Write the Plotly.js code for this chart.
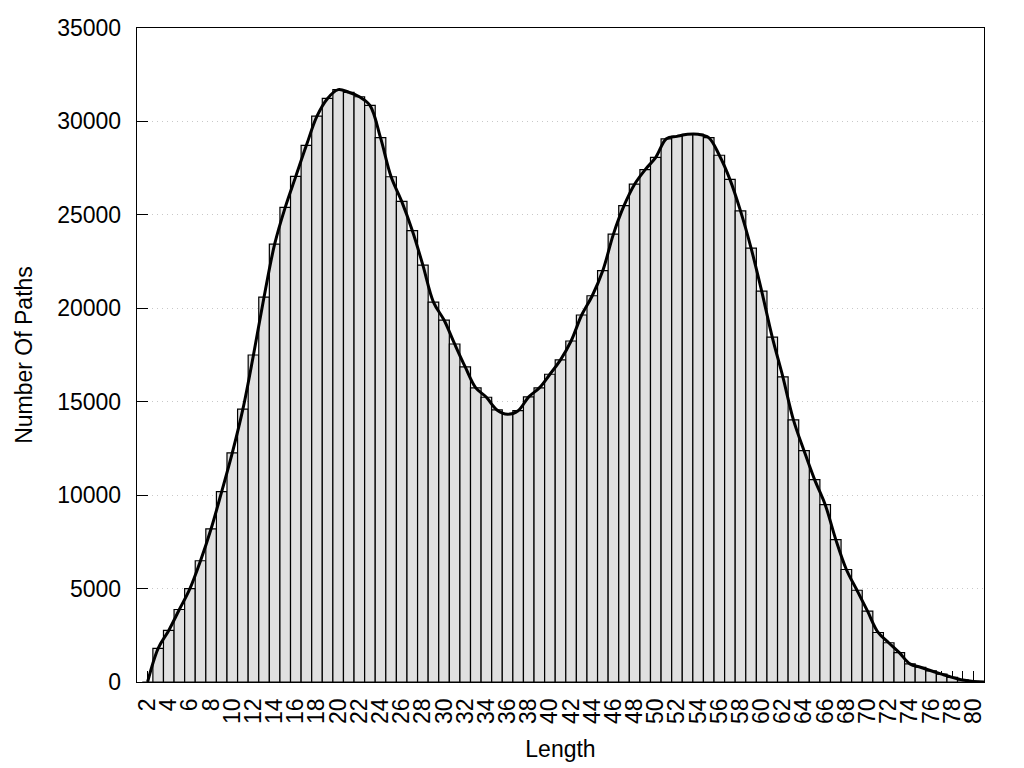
<!DOCTYPE html>
<html>
<head>
<meta charset="utf-8">
<script src="https://cdn.plot.ly/plotly-3.0.1.min.js"></script>
<style>html,body{margin:0;padding:0;background:#fff;}#chart{width:1024px;height:768px;}</style>
</head>
<body>
<div id="chart"></div>
<script>
var lengths = [2,3,4,5,6,7,8,9,10,11,12,13,14,15,16,17,18,19,20,21,22,23,24,25,26,27,28,29,30,31,32,33,34,35,36,37,38,39,40,41,42,43,44,45,46,47,48,49,50,51,52,53,54,55,56,57,58,59,60,61,62,63,64,65,66,67,68,69,70,71,72,73,74,75,76,77,78,79,80,81];
var pathCounts = [0,1800,2760,3880,5000,6490,8200,10190,12260,14600,17500,20600,23430,25400,27060,28720,30280,31230,31700,31560,31320,30860,29130,27040,25720,24160,22310,20330,19370,18090,16860,15740,15240,14560,14330,14520,15260,15740,16470,17240,18250,19640,20670,22020,23970,25490,26640,27420,28080,29070,29200,29310,29310,29130,28190,26900,25210,23220,20920,18460,16330,14030,12380,10830,9490,7620,6020,4910,3790,2650,2100,1570,970,790,600,420,250,110,30,0];
var xTickLabels = lengths.map(function(v){ return v % 2 === 0 && v <= 80 ? String(v) : ''; });
var yTickValues = [0,5000,10000,15000,20000,25000,30000,35000];

var font = 'Liberation Sans, Arial, sans-serif';

var bars = {
  type: 'bar',
  x: lengths,
  y: pathCounts,
  width: 1,
  marker: {color: '#e0e0e0', line: {color: '#000', width: 1.2}},
  hoverinfo: 'x+y',
  showlegend: false
};
var curve = {
  type: 'scatter',
  mode: 'lines',
  x: lengths,
  y: pathCounts,
  line: {color: '#000', width: 3, shape: 'spline', smoothing: 1},
  showlegend: false
};

var layout = {
  width: 1024,
  height: 768,
  margin: {l: 137, r: 40, t: 28, b: 86, pad: 0},
  paper_bgcolor: '#fff',
  plot_bgcolor: '#fff',
  bargap: 0,
  font: {family: font, size: 23, color: '#000'},
  xaxis: {
    range: [1, 81],
    tickmode: 'array',
    tickvals: lengths,
    ticktext: xTickLabels,
    tickangle: -90,
    ticks: 'inside',
    ticklen: 11,
    tickwidth: 1.2,
    tickcolor: '#000',
    ticklabelstandoff: 6,
    showgrid: false,
    zeroline: false,
    showline: true,
    linecolor: '#000',
    linewidth: 1.3,
    mirror: true,
    layer: 'below traces',
    tickfont: {family: font, size: 23, color: '#000'},
    title: {text: 'Length', font: {family: font, size: 23, color: '#000'}, standoff: 17}
  },
  yaxis: {
    range: [0, 35000],
    tickmode: 'array',
    tickvals: yTickValues,
    ticktext: yTickValues.map(String),
    ticks: 'inside',
    ticklen: 11,
    tickwidth: 1.2,
    tickcolor: '#000',
    ticklabelstandoff: 10,
    showgrid: true,
    gridcolor: '#c8c8c8',
    gridwidth: 1,
    griddash: '1px,4px',
    zeroline: false,
    showline: true,
    linecolor: '#000',
    linewidth: 1.3,
    mirror: true,
    layer: 'below traces',
    tickfont: {family: font, size: 23, color: '#000'},
    title: {text: 'Number Of Paths', font: {family: font, size: 23, color: '#000'}, standoff: 18}
  }
};

Plotly.newPlot('chart', [bars, curve], layout, {displayModeBar: false, staticPlot: true});
</script>
</body>
</html>
